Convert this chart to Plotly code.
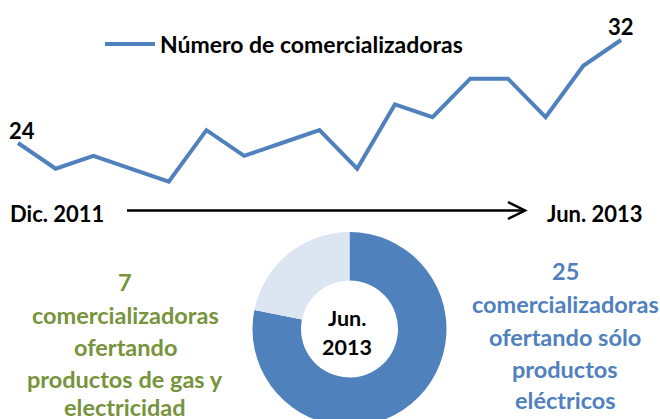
import plotly.graph_objects as go

# Data
months_idx = list(range(17))
comercializadoras = [24, 22, 23, 22, 21, 25, 23, 24, 25, 22, 27, 26, 29, 29, 26, 30, 32]
series_name = "Número de comercializadoras"
start_label = "Dic. 2011"
end_label = "Jun. 2013"
donut_labels = ["Sólo productos eléctricos", "Productos de gas y electricidad"]
donut_values = [25, 7]
left_text = ["7", "comercializadoras", "ofertando", "productos de gas y", "electricidad"]
right_text = ["25", "comercializadoras", "ofertando sólo", "productos", "eléctricos"]

W, H = 660, 440
BLUE = "#4F81BD"
LIGHT = "#DCE6F2"
GREEN = "#77933C"
FONT = "Lato"

def px(x):
    return x / W

def py(y):
    return 1 - y / H

fig = go.Figure()

fig.add_trace(go.Scatter(
    x=months_idx, y=comercializadoras, mode="lines", name=series_name,
    line=dict(color=BLUE, width=4), xaxis="x", yaxis="y",
))

fig.add_trace(go.Pie(
    labels=donut_labels, values=donut_values, hole=0.5, sort=False,
    direction="clockwise", rotation=0,
    marker=dict(colors=[BLUE, LIGHT]), textinfo="none", hoverinfo="label+value",
    domain=dict(x=[px(252.5), px(446.5)], y=[py(426), py(232)]),
    showlegend=False,
))

ppu_x = 603 / 16
ppu_y = 103 / 8
fig.update_layout(
    width=W, height=H,
    margin=dict(l=0, r=0, t=0, b=0),
    paper_bgcolor="white", plot_bgcolor="white",
    xaxis=dict(range=[-18 / ppu_x, 16 + 39 / ppu_x], visible=False, fixedrange=True),
    yaxis=dict(range=[32 - (H - 40) / ppu_y, 32 + 40 / ppu_y], visible=False, fixedrange=True),
    showlegend=True,
    legend=dict(x=px(100), y=py(44), xanchor="left", yanchor="middle",
                font=dict(family=FONT, size=23, color="black", weight="bold"),
                bgcolor="rgba(0,0,0,0)", itemwidth=50),
    font=dict(family=FONT),
)

ann = []
# endpoint labels
ann.append(dict(x=months_idx[0], y=comercializadoras[0], xref="x", yref="y",
                text=str(comercializadoras[0]), showarrow=False, xanchor="center",
                yanchor="middle", xshift=4, yshift=13,
                font=dict(family=FONT, size=22, color="black", weight="bold")))
ann.append(dict(x=months_idx[-1], y=comercializadoras[-1], xref="x", yref="y",
                text=str(comercializadoras[-1]), showarrow=False, xanchor="center",
                yanchor="middle", xshift=0, yshift=14,
                font=dict(family=FONT, size=22, color="black", weight="bold")))
# timeline labels
ann.append(dict(x=px(57), y=py(213), xref="paper", yref="paper", text=start_label,
                showarrow=False, xanchor="center", yanchor="middle",
                font=dict(family=FONT, size=22, color="black", weight="bold")))
ann.append(dict(x=px(595), y=py(213), xref="paper", yref="paper", text=end_label,
                showarrow=False, xanchor="center", yanchor="middle",
                font=dict(family=FONT, size=22, color="black", weight="bold")))
# donut center
for t, yy in zip(["Jun.", "2013"], [318, 347]):
    ann.append(dict(x=px(347), y=py(yy), xref="paper", yref="paper", text=t,
                    showarrow=False, xanchor="center", yanchor="middle",
                    font=dict(family=FONT, size=21.5, color="black", weight="bold")))
# side texts
for t, yy in zip(left_text, [282, 315, 347, 379, 407]):
    ann.append(dict(x=px(125), y=py(yy), xref="paper", yref="paper", text=t,
                    showarrow=False, xanchor="center", yanchor="middle",
                    font=dict(family=FONT, size=23.5, color=GREEN, weight="bold")))
for t, yy in zip(right_text, [271, 304, 337, 369, 400]):
    ann.append(dict(x=px(565), y=py(yy), xref="paper", yref="paper", text=t,
                    showarrow=False, xanchor="center", yanchor="middle",
                    font=dict(family=FONT, size=23.5, color=BLUE, weight="bold")))
fig.update_layout(annotations=ann)

# timeline arrow
fig.add_shape(type="line", xref="paper", yref="paper", x0=px(127), x1=px(524),
              y0=py(210.5), y1=py(210.5), line=dict(color="black", width=2.5))
fig.add_shape(type="path", xref="paper", yref="paper",
              path=f"M {px(508)} {py(202)} L {px(525)} {py(210.5)} L {px(508)} {py(219)}",
              line=dict(color="black", width=2.5))

fig.write_html("out.html", config={"displayModeBar": False},
               post_script="document.documentElement.style.overflow='hidden';document.body.style.overflow='hidden';document.body.style.margin='0';")
